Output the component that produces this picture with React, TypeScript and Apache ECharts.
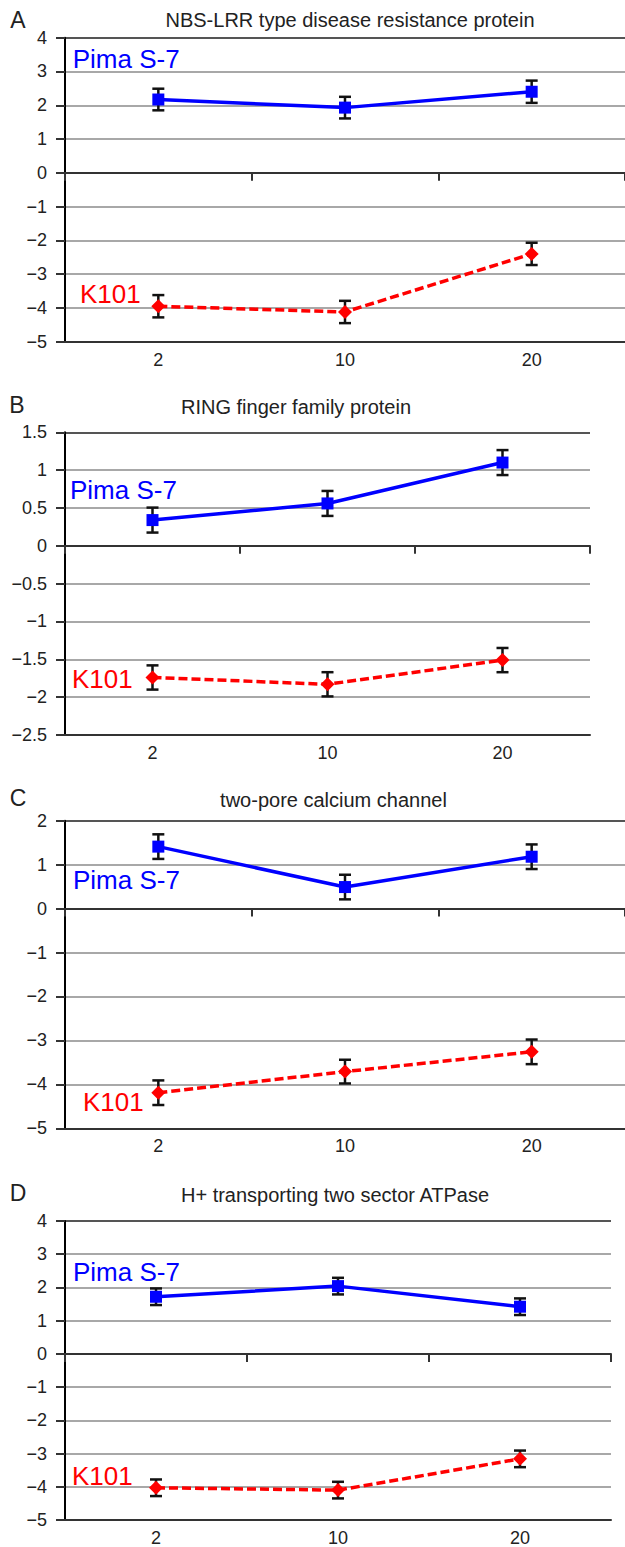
import React, { useEffect, useRef } from "react";
import * as echarts from "echarts";

// ---------- data ----------
const CATEGORIES = ["2", "10", "20"];
const SERIES_NAMES = ["Pima S-7", "K101"];
const TITLES = [
  "NBS-LRR type disease resistance protein",
  "RING finger family protein",
  "two-pore calcium channel",
  "H+ transporting two sector ATPase",
];
const LETTERS = ["A", "B", "C", "D"];

const PIMA_A = [2.17, 1.93, 2.4];
const PIMA_A_ERR = [0.32, 0.32, 0.33];
const K101_A = [-3.95, -4.12, -2.4];
const K101_A_ERR = [0.33, 0.33, 0.33];

const PIMA_B = [0.34, 0.56, 1.1];
const PIMA_B_ERR = [0.165, 0.165, 0.165];
const K101_B = [-1.74, -1.83, -1.51];
const K101_B_ERR = [0.16, 0.16, 0.16];

const PIMA_C = [1.41, 0.49, 1.18];
const PIMA_C_ERR = [0.28, 0.28, 0.28];
const K101_C = [-4.19, -3.71, -3.26];
const K101_C_ERR = [0.28, 0.27, 0.28];

const PIMA_D = [1.72, 2.04, 1.42];
const PIMA_D_ERR = [0.25, 0.25, 0.25];
const K101_D = [-4.03, -4.1, -3.16];
const K101_D_ERR = [0.25, 0.25, 0.25];

// y-axis ranges (min, max, interval)
const Y_MIN = [-5, -2.5, -5, -5];
const Y_MAX = [4, 1.5, 2, 4];
const Y_INTERVAL = [1, 0.5, 1, 1];

const PIMA = [PIMA_A, PIMA_B, PIMA_C, PIMA_D];
const PIMA_ERR = [PIMA_A_ERR, PIMA_B_ERR, PIMA_C_ERR, PIMA_D_ERR];
const K101 = [K101_A, K101_B, K101_C, K101_D];
const K101_ERR = [K101_A_ERR, K101_B_ERR, K101_C_ERR, K101_D_ERR];

// ---------- layout (positions only) ----------
const LAYOUT = [
  { top: 37.7, height: 304, width: 568.5, title: [350, 20], letter: [18, 20], pima: [72.7, 58.5], k101: [80, 294] },
  { top: 432.3, height: 302.7, width: 525, title: [296, 406.7], letter: [17, 405], pima: [70, 490], k101: [72, 679] },
  { top: 820.7, height: 307.6, width: 564, title: [333.5, 800], letter: [18, 798], pima: [73, 879.5], k101: [83, 1102] },
  { top: 1221, height: 299, width: 546, title: [335, 1195], letter: [18, 1193], pima: [73, 1272], k101: [72, 1475.5] },
];

const FONT = '"Liberation Sans", Arial, Helvetica, sans-serif';
const BLUE = "#0000ff";
const RED = "#ff0000";

function fmt(v: number) {
  return v < 0 ? "\u2212" + String(Math.abs(v)) : String(v);
}

function errorSeries(vals: number[], errs: number[], k: number) {
  return {
    type: "custom",
    xAxisIndex: 2 * k,
    yAxisIndex: k,
    z: 2,
    silent: true,
    data: vals.map((v, i) => [i, v - errs[i], v + errs[i]]),
    renderItem: (params: any, api: any) => {
      const lo = api.coord([api.value(0), api.value(1)]);
      const hi = api.coord([api.value(0), api.value(2)]);
      const w = 6;
      const st = { stroke: "#111", lineWidth: 2.5 };
      return {
        type: "group",
        children: [
          { type: "line", shape: { x1: lo[0], y1: lo[1], x2: hi[0], y2: hi[1] }, style: st },
          { type: "line", shape: { x1: lo[0] - w, y1: lo[1], x2: lo[0] + w, y2: lo[1] }, style: st },
          { type: "line", shape: { x1: hi[0] - w, y1: hi[1], x2: hi[0] + w, y2: hi[1] }, style: st },
        ],
      };
    },
  };
}

export default function App() {
  const ref = useRef<HTMLDivElement>(null);

  useEffect(() => {
    if (!ref.current) return;
    const chart = echarts.init(ref.current, null, { renderer: "svg" });
    const grid: any[] = [];
    const xAxis: any[] = [];
    const yAxis: any[] = [];
    const series: any[] = [];
    const graphic: any[] = [];

    LAYOUT.forEach((L, k) => {
      grid.push({ left: 65, top: L.top, width: L.width, height: L.height, containLabel: false });
      xAxis.push({
        type: "category",
        gridIndex: k,
        data: CATEGORIES,
        position: "bottom",
        boundaryGap: true,
        axisLine: { onZero: false, lineStyle: { color: "#333", width: 2 } },
        axisTick: { show: false },
        axisLabel: { color: "#222", fontSize: 18, fontFamily: FONT, margin: 9 },
        splitLine: { show: false },
      });
      xAxis.push({
        type: "category",
        gridIndex: k,
        data: CATEGORIES,
        position: "bottom",
        boundaryGap: true,
        axisLine: { onZero: true, lineStyle: { color: "#333", width: 2 } },
        axisTick: { show: true, length: 8, lineStyle: { color: "#333", width: 2 } },
        axisLabel: { show: false },
        splitLine: { show: false },
      });
      const nTicks = Math.round((Y_MAX[k] - Y_MIN[k]) / Y_INTERVAL[k]) + 1;
      const colors: string[] = [];
      for (let i = 0; i < nTicks; i++) colors.push(i === nTicks - 1 ? "#555" : "#a8a8a8");
      yAxis.push({
        type: "value",
        gridIndex: k,
        min: Y_MIN[k],
        max: Y_MAX[k],
        interval: Y_INTERVAL[k],
        axisLine: { show: true, onZero: false, lineStyle: { color: "#000", width: 2 } },
        axisTick: { show: true, length: 9, lineStyle: { color: "#333", width: 2 } },
        axisLabel: { color: "#222", fontSize: 18, fontFamily: FONT, margin: 18, formatter: fmt },
        splitLine: { show: true, lineStyle: { color: colors, width: 2 } },
      });

      series.push(errorSeries(PIMA[k], PIMA_ERR[k], k));
      series.push(errorSeries(K101[k], K101_ERR[k], k));
      series.push({
        type: "line",
        name: SERIES_NAMES[0],
        xAxisIndex: 2 * k,
        yAxisIndex: k,
        z: 3,
        data: PIMA[k],
        symbol: "rect",
        symbolSize: 12,
        itemStyle: { color: BLUE },
        lineStyle: { color: BLUE, width: 3.5 },
      });
      series.push({
        type: "line",
        name: SERIES_NAMES[1],
        xAxisIndex: 2 * k,
        yAxisIndex: k,
        z: 3,
        data: K101[k],
        symbol: "diamond",
        symbolSize: 14,
        itemStyle: { color: RED },
        lineStyle: { color: RED, width: 3.5, type: [9, 4] },
      });

      graphic.push({
        type: "text",
        x: L.title[0],
        y: L.title[1],
        style: { text: TITLES[k], fill: "#222", fontSize: 20, fontFamily: FONT, align: "center", verticalAlign: "middle" },
      });
      graphic.push({
        type: "text",
        x: L.letter[0],
        y: L.letter[1],
        style: { text: LETTERS[k], fill: "#222", fontSize: 23, fontFamily: FONT, align: "center", verticalAlign: "middle" },
      });
      graphic.push({
        type: "text",
        x: L.pima[0],
        y: L.pima[1],
        style: { text: SERIES_NAMES[0], fill: BLUE, fontSize: 26, fontFamily: FONT, align: "left", verticalAlign: "middle" },
      });
      graphic.push({
        type: "text",
        x: L.k101[0],
        y: L.k101[1],
        style: { text: SERIES_NAMES[1], fill: RED, fontSize: 26, fontFamily: FONT, align: "left", verticalAlign: "middle" },
      });
    });

    chart.setOption({
      animation: false,
      backgroundColor: "#ffffff",
      grid,
      xAxis,
      yAxis,
      series,
      graphic,
    });
    return () => chart.dispose();
  }, []);

  return (
    <div
      ref={ref}
      style={{ position: "absolute", left: 0, top: 0, width: 625, height: 1547, overflow: "hidden" }}
    />
  );
}
